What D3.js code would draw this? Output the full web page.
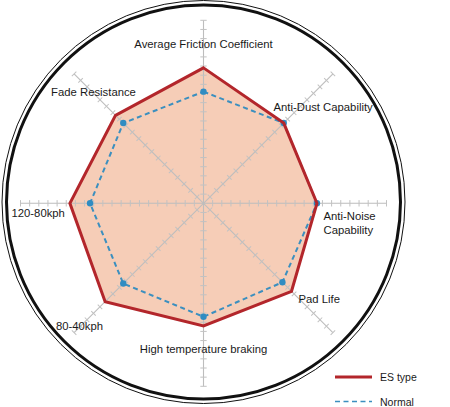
<!DOCTYPE html>
<html>
<head>
<meta charset="utf-8">
<script src="https://cdn.jsdelivr.net/npm/d3@7"></script>
<style>
  body { margin: 0; background: #fff; }
  svg text { font-family: "Liberation Sans", Arial, sans-serif; font-size: 11.3px; fill: #1a1a1a; }
</style>
</head>
<body>
<div class="chart"></div>
<script>
// radar data, clockwise from the top
var categories = ["Average Friction Coefficient", "Anti-Dust Capability", "Anti-Noise Capability",
  "Pad Life", "High temperature braking", "80-40kph", "120-80kph", "Fade Resistance"];
var esType = [74, 62, 62, 68, 67, 76, 73, 68];
var normal = [61, 62, 62, 61, 62, 62, 62, 62];
var tickValues = d3.range(0, 101, 5);
var seriesNames = ["ES type", "Normal"];

var svgWidth = 450, svgHeight = 407;
var cx = 203.5, cy = 203.3;
var outerR = 183;

var svg = d3.select(".chart").append("svg")
  .attr("width", svgWidth)
  .attr("height", svgHeight);

// outer double ring
svg.append("circle").attr("cx", cx).attr("cy", 202).attr("r", 197)
  .attr("fill", "none").attr("stroke", "#111").attr("stroke-width", 3);
svg.append("circle").attr("cx", cx).attr("cy", 202).attr("r", 201.5)
  .attr("fill", "none").attr("stroke", "#111").attr("stroke-width", 1);

var r = d3.scaleLinear().domain([0, 100]).range([0, outerR]);
var angle = d3.scalePoint().domain(categories).range([0, 2 * Math.PI * 7 / 8]);

var chart = svg.append("g").attr("transform", "translate(" + cx + "," + cy + ")");

var radial = d3.lineRadial()
  .angle(function(d, i) { return angle(categories[i]); })
  .radius(function(d) { return r(d); })
  .curve(d3.curveLinearClosed);

// ES type fill goes under the grid
chart.append("path")
  .attr("d", radial(esType))
  .attr("fill", "#f6cdb7");

// axes with small cross ticks
var axes = chart.selectAll(".axis")
  .data(categories)
  .enter().append("g")
  .attr("class", "axis")
  .attr("transform", function(d) { return "rotate(" + (angle(d) * 180 / Math.PI - 90) + ")"; });

axes.append("line")
  .attr("x1", 0).attr("x2", r(100))
  .attr("stroke", "#bdbdbd").attr("stroke-width", 1.1);

axes.selectAll(".tick")
  .data(tickValues.slice(1))
  .enter().append("line")
  .attr("x1", function(d) { return r(d); })
  .attr("x2", function(d) { return r(d); })
  .attr("y1", -3.2).attr("y2", 3.2)
  .attr("stroke", "#c2c2c2").attr("stroke-width", 1);

// Normal series
chart.append("path")
  .attr("d", radial(normal))
  .attr("fill", "none")
  .attr("stroke", "#3b8fbf")
  .attr("stroke-width", 2)
  .attr("stroke-dasharray", "5,3.5");

chart.selectAll(".dot")
  .data(normal)
  .enter().append("circle")
  .attr("class", "dot")
  .attr("cx", function(d, i) { return r(d) * Math.sin(angle(categories[i])); })
  .attr("cy", function(d, i) { return -r(d) * Math.cos(angle(categories[i])); })
  .attr("r", 3.2)
  .attr("fill", "#2f8cc2");

// ES type outline
chart.append("path")
  .attr("d", radial(esType))
  .attr("fill", "none")
  .attr("stroke", "#b3262b")
  .attr("stroke-width", 3)
  .attr("stroke-linejoin", "miter");

// axis labels
var labelPos = [
  { x: 0, y: -155, anchor: "middle", lines: ["Average Friction Coefficient"] },
  { x: 70, y: -92, anchor: "start", lines: ["Anti-Dust Capability"] },
  { x: 120, y: 17, anchor: "start", lines: ["Anti-Noise", "Capability"] },
  { x: 95, y: 100, anchor: "start", lines: ["Pad Life"] },
  { x: 0, y: 150, anchor: "middle", lines: ["High temperature braking"] },
  { x: -124, y: 127, anchor: "middle", lines: ["80-40kph"] },
  { x: -192, y: 14, anchor: "start", lines: ["120-80kph"] },
  { x: -110, y: -107, anchor: "middle", lines: ["Fade Resistance"] }
];

labelPos.forEach(function(p) {
  var t = chart.append("text")
    .attr("x", p.x).attr("y", p.y)
    .attr("text-anchor", p.anchor);
  p.lines.forEach(function(line, j) {
    t.append("tspan").attr("x", p.x).attr("dy", j === 0 ? 0 : 13.5).text(line);
  });
});

// legend
var legend = svg.append("g").attr("transform", "translate(335,377)");
legend.append("line").attr("x1", 0).attr("x2", 37).attr("y1", 0).attr("y2", 0)
  .attr("stroke", "#b3262b").attr("stroke-width", 3);
legend.append("line").attr("x1", 0).attr("x2", 37).attr("y1", 24.5).attr("y2", 24.5)
  .attr("stroke", "#3b8fbf").attr("stroke-width", 1.6).attr("stroke-dasharray", "5,3.5");
legend.selectAll("text")
  .data(seriesNames)
  .enter().append("text")
  .attr("x", 45)
  .attr("y", function(d, i) { return i * 24.5 + 4; })
  .style("font-size", "10.5px")
  .text(function(d) { return d; });
</script>
</body>
</html>
